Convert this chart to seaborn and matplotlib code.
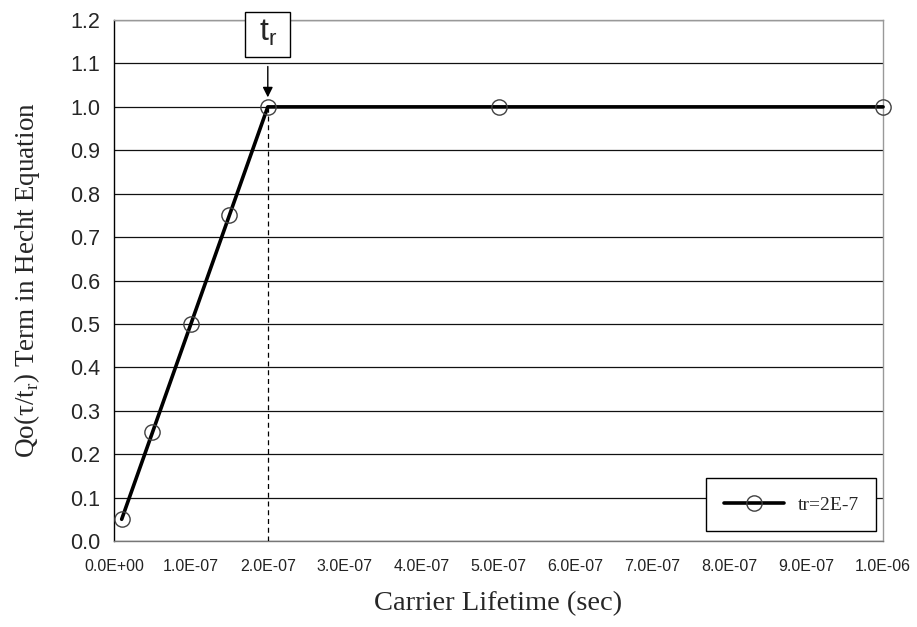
import numpy as np
import pandas as pd
import matplotlib
matplotlib.use('Agg')
import matplotlib.pyplot as plt
import matplotlib.transforms as mtransforms
from matplotlib.patches import Rectangle
import seaborn as sns

# --- data ---
lifetime = [1e-8, 5e-8, 1e-7, 1.5e-7, 2e-7, 5e-7, 1e-6]
qo_term = [0.05, 0.25, 0.50, 0.75, 1.00, 1.00, 1.00]
tr = 2e-7
xticks = np.arange(0, 11) * 1e-7
xlabels = ['0.0E+00', '1.0E-07', '2.0E-07', '3.0E-07', '4.0E-07', '5.0E-07',
           '6.0E-07', '7.0E-07', '8.0E-07', '9.0E-07', '1.0E-06']
yticks = np.round(np.arange(0, 13) * 0.1, 1)

df = pd.DataFrame({'lifetime': lifetime, 'qo': qo_term})

sns.set_style('white')
plt.rcParams['font.family'] = ['Liberation Sans', 'DejaVu Sans']

fig = plt.figure(figsize=(9.17, 6.27), dpi=100)
ax = fig.add_axes([0.1243, 0.1372, 0.8387, 0.8308])

sns.lineplot(data=df, x='lifetime', y='qo', ax=ax, color='black', linewidth=2.6,
             marker='o', markersize=11, markerfacecolor='none',
             markeredgecolor='#404040', markeredgewidth=1.0,
             label='tr=2E-7', zorder=5, clip_on=False)

# dashed marker for t_r
ax.plot([tr, tr], [0, 1.0], color='black', linestyle=(0, (4, 3)), linewidth=0.9, zorder=3)

ax.set_xlim(0, 1e-6)
ax.set_ylim(0, 1.2)
ax.set_xticks(xticks)
ax.set_xticklabels(xlabels, fontsize=11.5, color='#222222')
ax.set_yticks(yticks)
ax.set_yticklabels([f'{v:.1f}' for v in yticks], fontsize=15.5)

ax.grid(axis='y', color='#111111', linewidth=0.9)
ax.grid(axis='x', visible=False)
ax.set_axisbelow(True)

for s in ['top', 'right']:
    ax.spines[s].set_color('#999999')
    ax.spines[s].set_linewidth(1.0)
ax.spines['left'].set_color('black')
ax.spines['left'].set_linewidth(1.0)
ax.spines['bottom'].set_color('#777777')
ax.spines['bottom'].set_linewidth(1.0)
ax.tick_params(axis='both', direction='out', length=5, width=1)
ax.tick_params(axis='x', color='#555555', pad=8)
ax.tick_params(axis='y', color='black', pad=5)

ax.set_xlabel('Carrier Lifetime (sec)', family='Liberation Serif', fontsize=20.5, labelpad=12)
ax.set_ylabel(r'Qo(τ/t$_\mathregular{r}$) Term in Hecht Equation', family='Liberation Serif',
              fontsize=19.5, labelpad=20)

# t_r callout: fixed-size square box (pixels) centred above the t_r line
box_y = 1.167
cx, cy = ax.transData.transform((tr, box_y))
ax.add_artist(Rectangle((cx - 22.5, cy - 22.5), 45, 45, transform=mtransforms.IdentityTransform(),
                        fc='white', ec='black', lw=1.0, zorder=6, clip_on=False))
ax.text(tr, box_y + 0.004, r't$_\mathregular{r}$', ha='center', va='center', fontsize=23,
        family='Liberation Sans', clip_on=False, zorder=7)
ax.annotate('', xy=(tr, 1.022), xytext=(tr, 1.093), annotation_clip=False,
            arrowprops=dict(arrowstyle='-|>', color='black', lw=1.0,
                            mutation_scale=15, shrinkA=0, shrinkB=0))

leg = ax.legend(loc='lower right', bbox_to_anchor=(0.991, 0.019), frameon=True,
                fancybox=False, edgecolor='black', framealpha=1,
                prop={'family': 'Liberation Serif', 'size': 14},
                handlelength=3.1, borderpad=0.9, handletextpad=0.7,
                borderaxespad=0)
leg.get_frame().set_linewidth(1.0)

fig.savefig('out.png', dpi=100)
